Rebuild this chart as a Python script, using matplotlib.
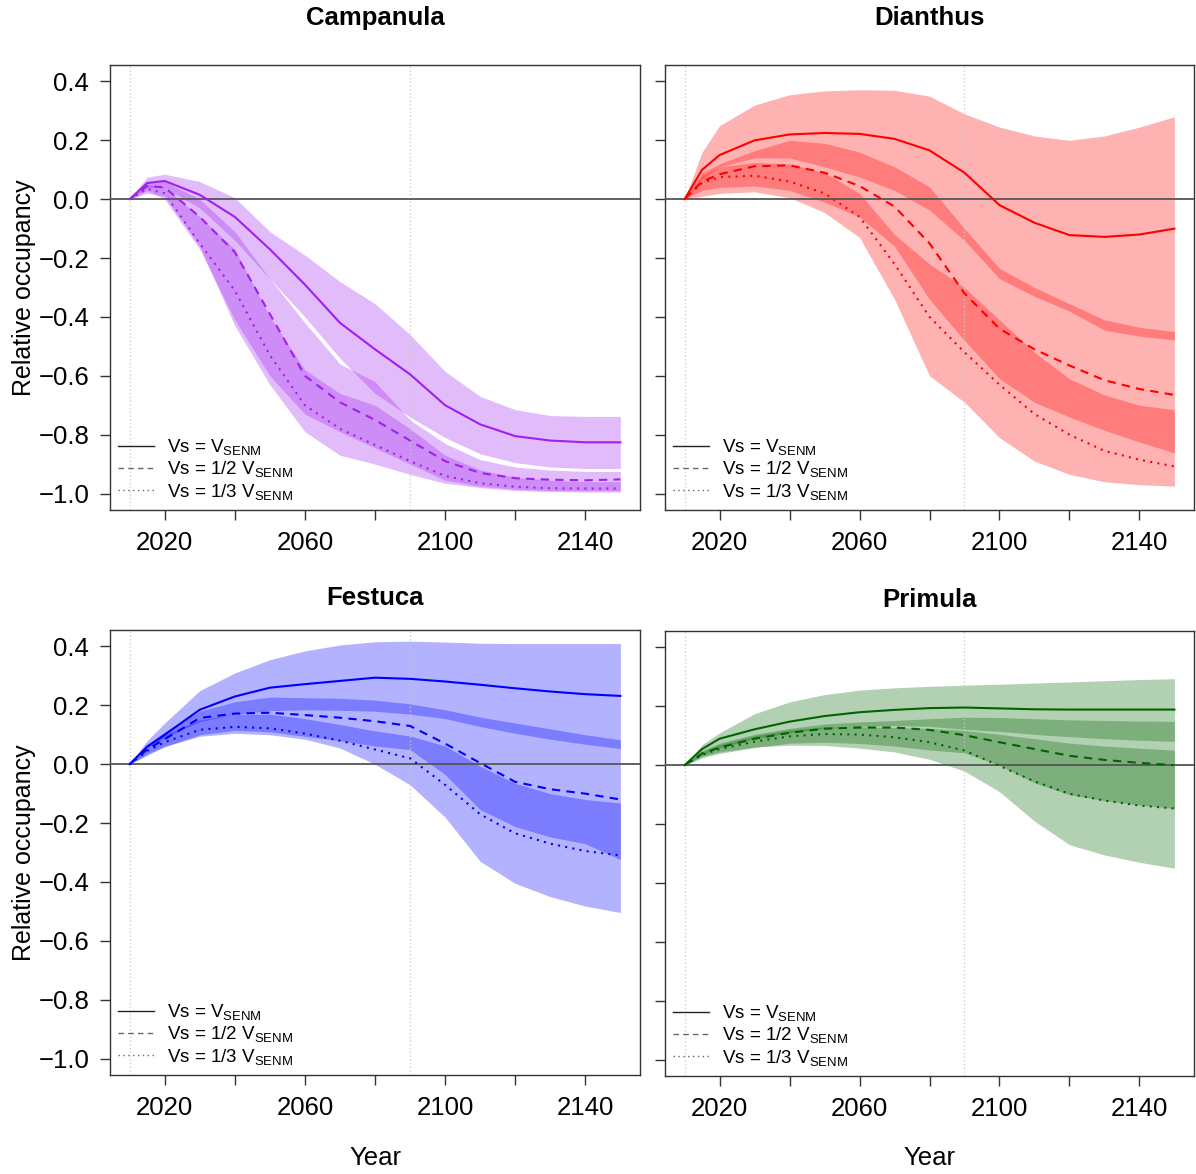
import matplotlib
matplotlib.use("Agg")
import matplotlib.pyplot as plt
from matplotlib.lines import Line2D

plt.rcParams['font.family'] = ['Liberation Sans', 'DejaVu Sans']
plt.rcParams['mathtext.fontset'] = 'custom'
plt.rcParams['mathtext.rm'] = 'Liberation Sans'
plt.rcParams['mathtext.it'] = 'Liberation Sans:italic'

years = [2010, 2015, 2020, 2030, 2040, 2050, 2060, 2070, 2080, 2090, 2100, 2110, 2120, 2130, 2140, 2150]

# Campanula
camp_v1 = [0, 0.055, 0.062, 0.015, -0.06, -0.17, -0.29, -0.42, -0.51, -0.595, -0.70, -0.765, -0.805, -0.82, -0.826, -0.826]
camp_v1_hi = [0, 0.075, 0.085, 0.06, 0.005, -0.11, -0.19, -0.28, -0.355, -0.46, -0.585, -0.67, -0.715, -0.735, -0.738, -0.738]
camp_v1_lo = [0, 0.04, 0.04, -0.03, -0.14, -0.27, -0.40, -0.54, -0.66, -0.74, -0.81, -0.865, -0.895, -0.91, -0.915, -0.915]
camp_v2 = [0, 0.045, 0.04, -0.06, -0.18, -0.39, -0.60, -0.69, -0.75, -0.82, -0.89, -0.93, -0.948, -0.953, -0.955, -0.952]
camp_v2_hi = [0, 0.06, 0.06, 0.0, -0.11, -0.27, -0.42, -0.56, -0.62, -0.75, -0.83, -0.885, -0.91, -0.92, -0.925, -0.925]
camp_v2_lo = [0, 0.03, 0.0, -0.17, -0.41, -0.60, -0.73, -0.79, -0.845, -0.90, -0.955, -0.975, -0.985, -0.99, -0.99, -0.99]
camp_v3 = [0, 0.035, 0.02, -0.15, -0.31, -0.53, -0.70, -0.78, -0.835, -0.89, -0.94, -0.965, -0.977, -0.982, -0.983, -0.983]
camp_v3_hi = [0, 0.05, 0.04, -0.06, -0.17, -0.40, -0.58, -0.66, -0.70, -0.78, -0.87, -0.92, -0.945, -0.955, -0.96, -0.96]
camp_v3_lo = [0, 0.02, 0.01, -0.16, -0.43, -0.63, -0.79, -0.87, -0.90, -0.935, -0.965, -0.98, -0.99, -0.993, -0.995, -0.995]

# Dianthus
dian_v1 = [0, 0.10, 0.15, 0.20, 0.22, 0.225, 0.222, 0.205, 0.166, 0.09, -0.02, -0.08, -0.122, -0.128, -0.12, -0.10]
dian_v1_hi = [0, 0.16, 0.25, 0.32, 0.355, 0.368, 0.372, 0.37, 0.35, 0.29, 0.245, 0.215, 0.20, 0.215, 0.245, 0.28]
dian_v1_lo = [0, 0.07, 0.11, 0.14, 0.14, 0.11, 0.075, 0.03, -0.037, -0.14, -0.27, -0.33, -0.38, -0.445, -0.465, -0.478]
dian_v2 = [0, 0.06, 0.085, 0.112, 0.115, 0.09, 0.045, -0.025, -0.15, -0.32, -0.44, -0.51, -0.565, -0.615, -0.645, -0.665]
dian_v2_hi = [0, 0.09, 0.12, 0.165, 0.20, 0.19, 0.16, 0.11, 0.042, -0.10, -0.235, -0.30, -0.355, -0.41, -0.435, -0.45]
dian_v2_lo = [0, 0.03, 0.04, 0.045, 0.03, -0.01, -0.06, -0.16, -0.34, -0.48, -0.61, -0.69, -0.74, -0.785, -0.825, -0.862]
dian_v3 = [0, 0.055, 0.075, 0.08, 0.06, 0.02, -0.06, -0.22, -0.40, -0.52, -0.63, -0.73, -0.80, -0.855, -0.885, -0.908]
dian_v3_hi = [0, 0.08, 0.11, 0.125, 0.12, 0.09, 0.02, -0.12, -0.22, -0.30, -0.41, -0.52, -0.61, -0.665, -0.70, -0.715]
dian_v3_lo = [0, 0.01, 0.02, 0.025, 0.005, -0.045, -0.13, -0.34, -0.60, -0.69, -0.81, -0.89, -0.935, -0.96, -0.97, -0.975]

# Festuca
fest_v1 = [0, 0.06, 0.10, 0.185, 0.23, 0.26, 0.272, 0.283, 0.294, 0.29, 0.281, 0.27, 0.258, 0.247, 0.238, 0.232]
fest_v1_hi = [0, 0.08, 0.14, 0.25, 0.31, 0.355, 0.385, 0.405, 0.416, 0.418, 0.415, 0.411, 0.41, 0.41, 0.41, 0.41]
fest_v1_lo = [0, 0.055, 0.09, 0.145, 0.17, 0.182, 0.185, 0.183, 0.18, 0.17, 0.155, 0.128, 0.105, 0.085, 0.068, 0.053]
fest_v2 = [0, 0.05, 0.085, 0.157, 0.172, 0.175, 0.167, 0.158, 0.146, 0.13, 0.07, 0.004, -0.06, -0.085, -0.10, -0.12]
fest_v2_hi = [0, 0.065, 0.11, 0.18, 0.212, 0.228, 0.226, 0.224, 0.218, 0.205, 0.185, 0.16, 0.14, 0.12, 0.10, 0.083]
fest_v2_lo = [0, 0.035, 0.06, 0.10, 0.115, 0.11, 0.095, 0.08, 0.062, 0.05, -0.035, -0.154, -0.212, -0.247, -0.27, -0.324]
fest_v3 = [0, 0.045, 0.075, 0.117, 0.127, 0.122, 0.104, 0.08, 0.05, 0.02, -0.07, -0.17, -0.235, -0.27, -0.295, -0.31]
fest_v3_hi = [0, 0.06, 0.10, 0.15, 0.17, 0.17, 0.155, 0.135, 0.113, 0.096, 0.062, -0.007, -0.065, -0.10, -0.12, -0.132]
fest_v3_lo = [0, 0.03, 0.06, 0.095, 0.105, 0.10, 0.085, 0.055, 0.0, -0.07, -0.18, -0.33, -0.405, -0.45, -0.482, -0.504]

# Primula
prim_v1 = [0, 0.055, 0.09, 0.122, 0.148, 0.167, 0.18, 0.188, 0.194, 0.196, 0.193, 0.19, 0.189, 0.189, 0.189, 0.189]
prim_v1_hi = [0, 0.07, 0.11, 0.175, 0.215, 0.24, 0.255, 0.263, 0.268, 0.272, 0.275, 0.279, 0.283, 0.287, 0.291, 0.294]
prim_v1_lo = [0, 0.035, 0.06, 0.09, 0.11, 0.125, 0.132, 0.135, 0.132, 0.122, 0.115, 0.105, 0.097, 0.09, 0.085, 0.081]
prim_v2 = [0, 0.04, 0.06, 0.09, 0.11, 0.124, 0.128, 0.128, 0.12, 0.102, 0.078, 0.055, 0.032, 0.018, 0.008, 0.0]
prim_v2_hi = [0, 0.05, 0.075, 0.105, 0.125, 0.14, 0.147, 0.152, 0.158, 0.163, 0.162, 0.158, 0.154, 0.152, 0.15, 0.149]
prim_v2_lo = [0, 0.025, 0.04, 0.06, 0.075, 0.078, 0.074, 0.065, 0.052, 0.042, 0.0, -0.06, -0.10, -0.12, -0.135, -0.147]
prim_v3 = [0, 0.035, 0.055, 0.08, 0.098, 0.106, 0.104, 0.095, 0.078, 0.05, -0.002, -0.055, -0.097, -0.12, -0.137, -0.147]
prim_v3_hi = [0, 0.045, 0.07, 0.10, 0.12, 0.13, 0.13, 0.128, 0.125, 0.118, 0.105, 0.09, 0.075, 0.065, 0.058, 0.051]
prim_v3_lo = [0, 0.03, 0.045, 0.062, 0.068, 0.067, 0.058, 0.045, 0.02, -0.02, -0.09, -0.19, -0.27, -0.305, -0.33, -0.35]

legend_labels = [r'Vs = V$_{\rm SENM}$', r'Vs = 1/2 V$_{\rm SENM}$', r'Vs = 1/3 V$_{\rm SENM}$']
line_styles = ['-', (0, (4, 3)), (0, (1, 2.5))]

W, H = 1196, 1174
fig = plt.figure(figsize=(W / 100, H / 100), dpi=100)


def panel(box, title, title_y, color, mids, los, his, left, bottom):
    x0, y0, x1, y1 = box
    ax = fig.add_axes([x0 / W, 1 - y1 / H, (x1 - x0) / W, (y1 - y0) / H])
    for lo, hi in zip(los, his):
        ax.fill_between(years, lo, hi, color=color, alpha=0.3, lw=0)
    ax.axhline(0, color='#555555', lw=1.3, zorder=3)
    for xv in (2010, 2090):
        ax.axvline(xv, color='#c8c8c8', lw=0.9, ls=(0, (1, 2)), zorder=1)
    for m, ls in zip(mids, line_styles):
        ax.plot(years, m, color=color, lw=1.5, ls=ls, zorder=4)
    ax.set_xlim(2004.4, 2155.6)
    ax.set_ylim(-1.056, 0.456)
    ax.set_xticks([2020, 2040, 2060, 2080, 2100, 2120, 2140])
    ax.set_xticklabels(['2020', '', '2060', '', '2100', '', '2140'])
    ax.set_yticks([-1.0, -0.8, -0.6, -0.4, -0.2, 0.0, 0.2, 0.4])
    if not left:
        ax.set_yticklabels([])
    else:
        ax.set_ylabel('Relative occupancy', fontsize=18, labelpad=2)
    ax.tick_params(direction='out', length=7, width=1, colors='#333333',
                   labelcolor='black', labelsize=18.5)
    ax.tick_params(axis='x', pad=8)
    ax.tick_params(axis='y', pad=8)
    for s in ax.spines.values():
        s.set_color('#333333')
        s.set_linewidth(1)
    handles = [Line2D([], [], color=c, lw=1, ls=ls)
               for c, ls in zip(['#222222', '#666666', '#666666'], line_styles)]
    ax.legend(handles, legend_labels, loc='lower left', frameon=False, fontsize=13.5,
              handlelength=1.9, handletextpad=0.7, labelspacing=0.12,
              borderaxespad=0.15, borderpad=0.3)
    fig.text((x0 + x1) / 2 / W, 1 - title_y / H, title, ha='center', va='center',
             fontsize=18.5, fontweight='bold')
    if bottom:
        fig.text((x0 + x1) / 2 / W, 1 - 1158 / H, 'Year', ha='center', va='center', fontsize=18.5)
    return ax


panel((110, 65, 640, 510), 'Campanula', 18, '#A020F0',
      [camp_v1, camp_v2, camp_v3], [camp_v1_lo, camp_v2_lo, camp_v3_lo],
      [camp_v1_hi, camp_v2_hi, camp_v3_hi], True, False)
panel((665, 65, 1194, 510), 'Dianthus', 18, '#FF0000',
      [dian_v1, dian_v2, dian_v3], [dian_v1_lo, dian_v2_lo, dian_v3_lo],
      [dian_v1_hi, dian_v2_hi, dian_v3_hi], False, False)
panel((110, 630, 640, 1075), 'Festuca', 598, '#0000FF',
      [fest_v1, fest_v2, fest_v3], [fest_v1_lo, fest_v2_lo, fest_v3_lo],
      [fest_v1_hi, fest_v2_hi, fest_v3_hi], True, True)
panel((665, 631, 1194, 1076), 'Primula', 600, '#006400',
      [prim_v1, prim_v2, prim_v3], [prim_v1_lo, prim_v2_lo, prim_v3_lo],
      [prim_v1_hi, prim_v2_hi, prim_v3_hi], False, True)

fig.savefig('out.png', dpi=100)
